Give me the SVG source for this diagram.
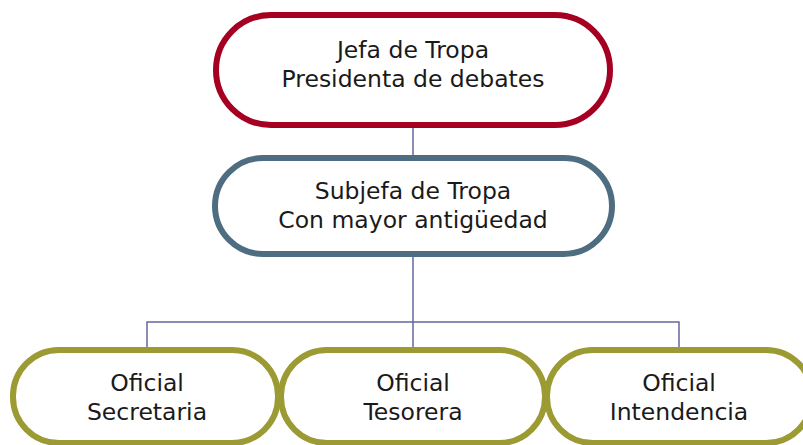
<svg xmlns="http://www.w3.org/2000/svg" width="803" height="445" viewBox="0 0 803 445">
<style>
.n{fill:#fff;stroke-width:6}
.r{stroke:#A50021}
.b{stroke:#4E6D80}
.o{stroke:#9B9A33}
.t{font-family:"DejaVu Sans",sans-serif;font-size:23.5px;fill:#1a1a1a;text-anchor:middle}
.c{fill:none;stroke:#6666A0;stroke-width:1.5}
</style>
<rect width="803" height="445" fill="#fff"/>
<g id="connectors">
<line class="c" x1="413" y1="127" x2="413" y2="158"/>
<polyline class="c" points="413,256 413,322"/>
<polyline class="c" points="147,349 147,322 679,322 679,349"/>
<line class="c" x1="413" y1="322" x2="413" y2="349"/>
</g>
<g id="jefa">
<rect class="n r" x="216" y="15" width="394" height="110" rx="55"/>
<text class="t" x="413" y="58">Jefa de Tropa</text>
<text class="t" x="413" y="87">Presidenta de debates</text>
</g>
<g id="subjefa">
<rect class="n b" x="215" y="158" width="397" height="96" rx="48"/>
<text class="t" x="413" y="199">Subjefa de Tropa</text>
<text class="t" x="413" y="228">Con mayor antigüedad</text>
</g>
<g id="secretaria">
<rect class="n o" x="13" y="350" width="265" height="93" rx="46"/>
<text class="t" x="147" y="391">Oficial</text>
<text class="t" x="147" y="420">Secretaria</text>
</g>
<g id="tesorera">
<rect class="n o" x="281" y="350" width="264" height="93" rx="46"/>
<text class="t" x="413" y="391">Oficial</text>
<text class="t" x="413" y="420">Tesorera</text>
</g>
<g id="intendencia">
<rect class="n o" x="547" y="350" width="265" height="93" rx="46"/>
<text class="t" x="679" y="391">Oficial</text>
<text class="t" x="679" y="420">Intendencia</text>
</g>
</svg>
